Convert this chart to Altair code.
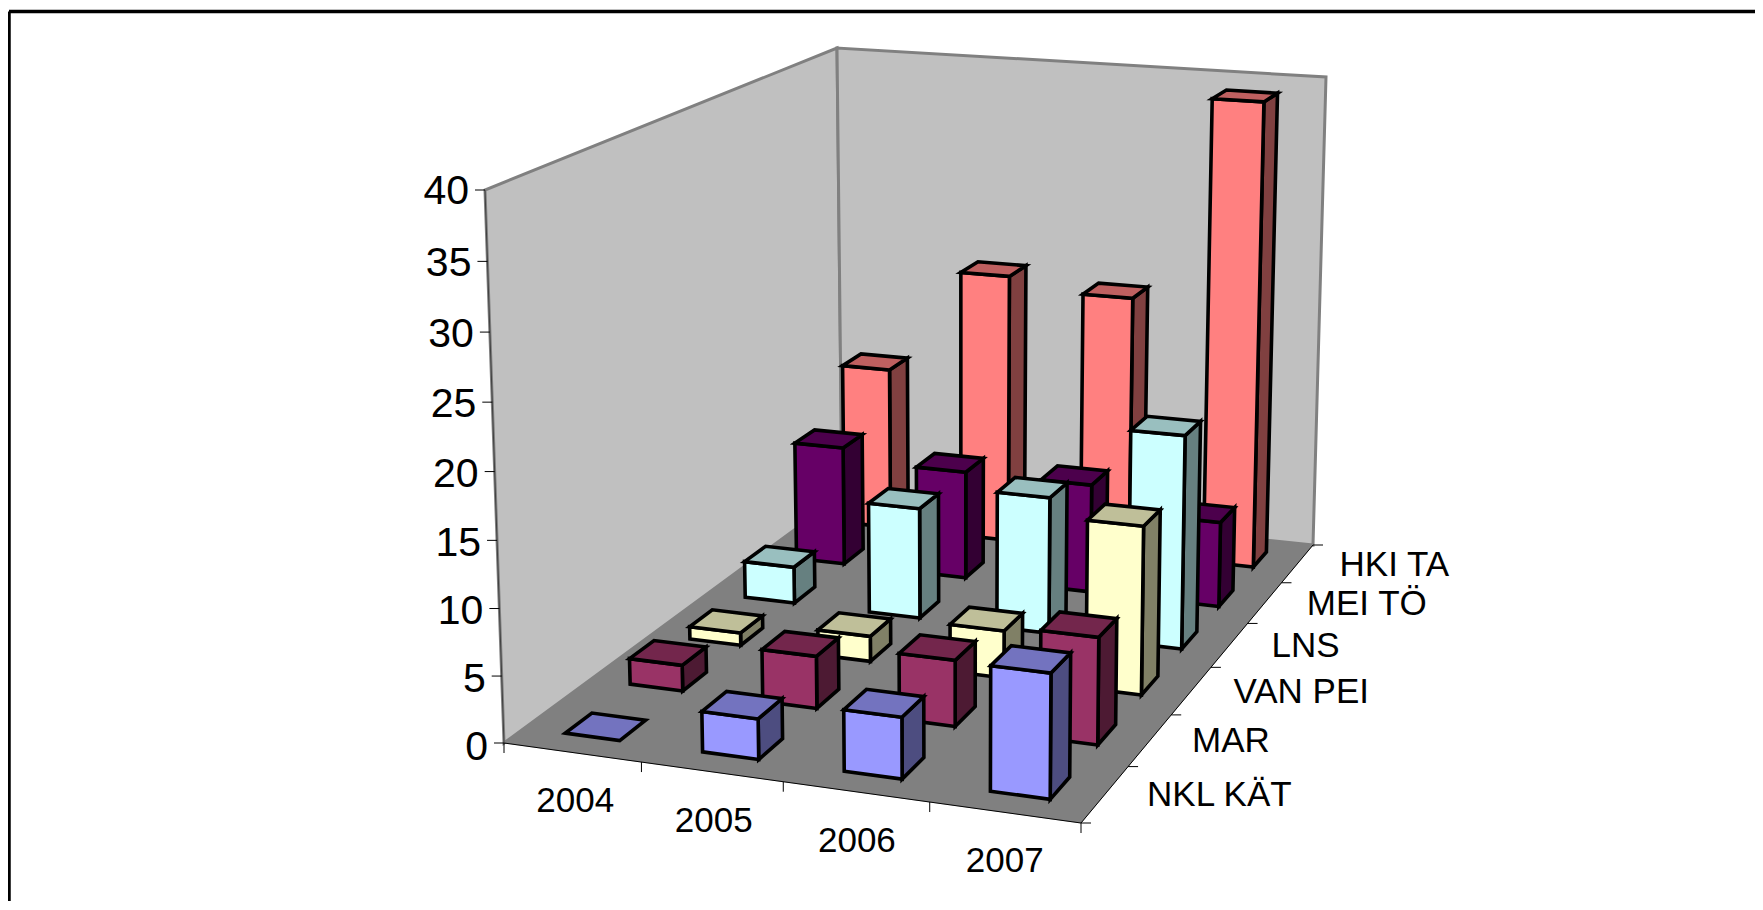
import numpy as np
import altair as alt

years = ["2004", "2005", "2006", "2007"]
series = ["NKL KÄT", "MAR", "VAN PEI", "LNS", "MEI TÖ", "HKI TA"]
nkl_kat = [0, 3, 4.5, 9]
mar = [2, 4, 5, 8]
van_pei = [1, 2, 3.7, 13]
lns = [3, 9, 11, 17]
mei_to = [10, 9, 9, 7]
hki_ta = [14, 23, 22, 39]
values = [nkl_kat, mar, van_pei, lns, mei_to, hki_ta]
front = ["#9999FF", "#993366", "#FFFFCC", "#CCFFFF", "#660066", "#FF8080"]
top = ["#7373BF", "#73264C", "#BFBF99", "#99BFBF", "#4C004C", "#BF6060"]
side = ["#4D4D80", "#4D1A33", "#808066", "#668080", "#330033", "#804040"]
z_ticks = [0, 5, 10, 15, 20, 25, 30, 35, 40]
PAGE_W, PAGE_H = 1747, 893

# Calibration of the 3D box: floor and ceiling corners in page pixels
floor_px = [(504, 743), (1081, 823), (1313, 545), (842, 495)]
ceil_px = [(485, 190), None, (1326, 77), (837, 48)]
corners = [(0, 0), (4, 0), (4, 6), (0, 6)]


def homog(a, b):
    return np.cross([a[0], a[1], 1.0], [b[0], b[1], 1.0])


def meet(l1, l2):
    h = np.cross(l1, l2)
    return h[:2] / h[2]


vx = meet(homog(floor_px[0], floor_px[1]), homog(floor_px[3], floor_px[2]))
vy = meet(homog(floor_px[0], floor_px[3]), homog(floor_px[1], floor_px[2]))
ceil_px[1] = tuple(meet(homog(ceil_px[0], vx), homog(ceil_px[2], vy)))


def homography(src, dst):
    rows = []
    for (x, y), (u, v) in zip(src, dst):
        rows.append([x, y, 1, 0, 0, 0, -u * x, -u * y, -u])
        rows.append([0, 0, 0, x, y, 1, -v * x, -v * y, -v])
    return np.linalg.svd(np.array(rows, float))[2][-1].reshape(3, 3)


H_floor = homography(corners, floor_px)
H_ceil = homography(corners, ceil_px)


def apply(H, x, y):
    h = H @ np.array([x, y, 1.0])
    return h[:2] / h[2]


def proj(x, y, z, dx=0, dy=0):
    f = apply(H_floor, x, y)
    c = apply(H_ceil, x, y)
    t = z / 40
    t = t * 0.964 / (1 - 0.036 * t)
    p = f + t * (c - f)
    return [float(p[0]) - 8 + dx, float(p[1]) - 8 + dy]


def poly(pts, fill, stroke, sw):
    ring = [proj(*p) for p in pts]
    ring.append(ring[0])
    return {"type": "Feature", "geometry": {"type": "Polygon", "coordinates": [ring]},
            "properties": {"fill": fill, "stroke": stroke, "sw": sw}}


def seg(a, b, stroke="#000000", sw=1):
    return {"type": "Feature",
            "geometry": {"type": "LineString", "coordinates": [a, b]},
            "properties": {"fill": "transparent", "stroke": stroke, "sw": sw}}


walls = [
    poly([(0, 0, 0), (0, 6, 0), (0, 6, 40), (0, 0, 40)], "#C0C0C0", "#808080", 3),
    poly([(0, 6, 0), (4, 6, 0), (4, 6, 40), (0, 6, 40)], "#C0C0C0", "#808080", 3),
    poly([(0, 0, 0), (4, 0, 0), (4, 6, 0), (0, 6, 0)], "#808080", "#808080", 0.5),
]
axes = [seg(proj(0, 0, 0), proj(4, 0, 0)), seg(proj(4, 0, 0), proj(4, 6, 0)),
        seg(proj(0, 0, 0), proj(0, 0, 40), "#404040", 1)]
for k in range(5):
    axes.append(seg(proj(k, 0, 0), proj(k, 0, 0, 0, 10)))
for k in range(7):
    axes.append(seg(proj(4, k, 0), proj(4, k, 0, 10, 0)))
for z in z_ticks:
    axes.append(seg(proj(0, 0, z), proj(0, 0, z, -10, 0)))

W, D = 0.4, 0.4
bars = []
for j in range(5, -1, -1):
    for i in range(4):
        v = values[j][i]
        x0, x1 = i + 0.5 - W / 2, i + 0.5 + W / 2
        y0, y1 = j + 0.5 - D / 2, j + 0.5 + D / 2
        if v > 0:
            bars.append(poly([(x1, y0, 0), (x1, y1, 0), (x1, y1, v), (x1, y0, v)], side[j], "#000000", 3.6))
            bars.append(poly([(x0, y0, 0), (x1, y0, 0), (x1, y0, v), (x0, y0, v)], front[j], "#000000", 3.6))
        bars.append(poly([(x0, y0, v), (x1, y0, v), (x1, y1, v), (x0, y1, v)], top[j], "#000000", 3.6))

labels = []
for z in z_ticks:
    p = proj(0, 0, z, -16, 2 + (40 - z) / 40 * 2.5)
    labels.append({"lon": p[0], "lat": p[1], "t": str(z), "a": "right", "s": 41})
for i, y in enumerate(years):
    p = proj(i + 0.5, 0, 0, 3 - i, 49)
    labels.append({"lon": p[0], "lat": p[1], "t": y, "a": "center", "s": 35})
for j, s in enumerate(series):
    p = proj(4, j + 0.5, 0, 42, 1)
    labels.append({"lon": p[0], "lat": p[1], "t": s, "a": "left", "s": 35})


def shapes(features):
    return alt.Chart(alt.Data(values=features)).mark_geoshape(strokeJoin="miter").encode(
        fill=alt.Fill("properties.fill:N", scale=None),
        stroke=alt.Stroke("properties.stroke:N", scale=None),
        strokeWidth=alt.StrokeWidth("properties.sw:Q", scale=None),
    ).project(type="identity", scale=1, translate=[0, 0])


def texts(a):
    rows_ = [r for r in labels if r["a"] == a]
    return alt.Chart(alt.Data(values=rows_)).mark_text(
        font="Liberation Sans", align=a, baseline="middle", color="#000000"
    ).encode(
        longitude="lon:Q", latitude="lat:Q", text="t:N",
        size=alt.Size("s:Q", scale=None),
    ).project(type="identity", scale=1, translate=[0, 0])


page = {"type": "Feature",
        "geometry": {"type": "Polygon",
                     "coordinates": [[[0, 0], [PAGE_W, 0], [PAGE_W, PAGE_H], [0, PAGE_H], [0, 0]]]},
        "properties": {"fill": "#FFFFFF", "stroke": "transparent", "sw": 0}}
frame = [page, seg([1, 3.5], [PAGE_W, 3.5], "#000000", 3.5), seg([1, 3.5], [1, PAGE_H], "#000000", 3.5)]

chart = alt.layer(
    shapes(frame), shapes(walls), shapes(axes), shapes(bars),
    texts("right"), texts("center"), texts("left"),
).properties(width=PAGE_W, height=PAGE_H, padding=0, background="#FFFFFF").configure_view(stroke=None)
chart.save("out.html", embed_options={"renderer": "svg", "actions": False})
